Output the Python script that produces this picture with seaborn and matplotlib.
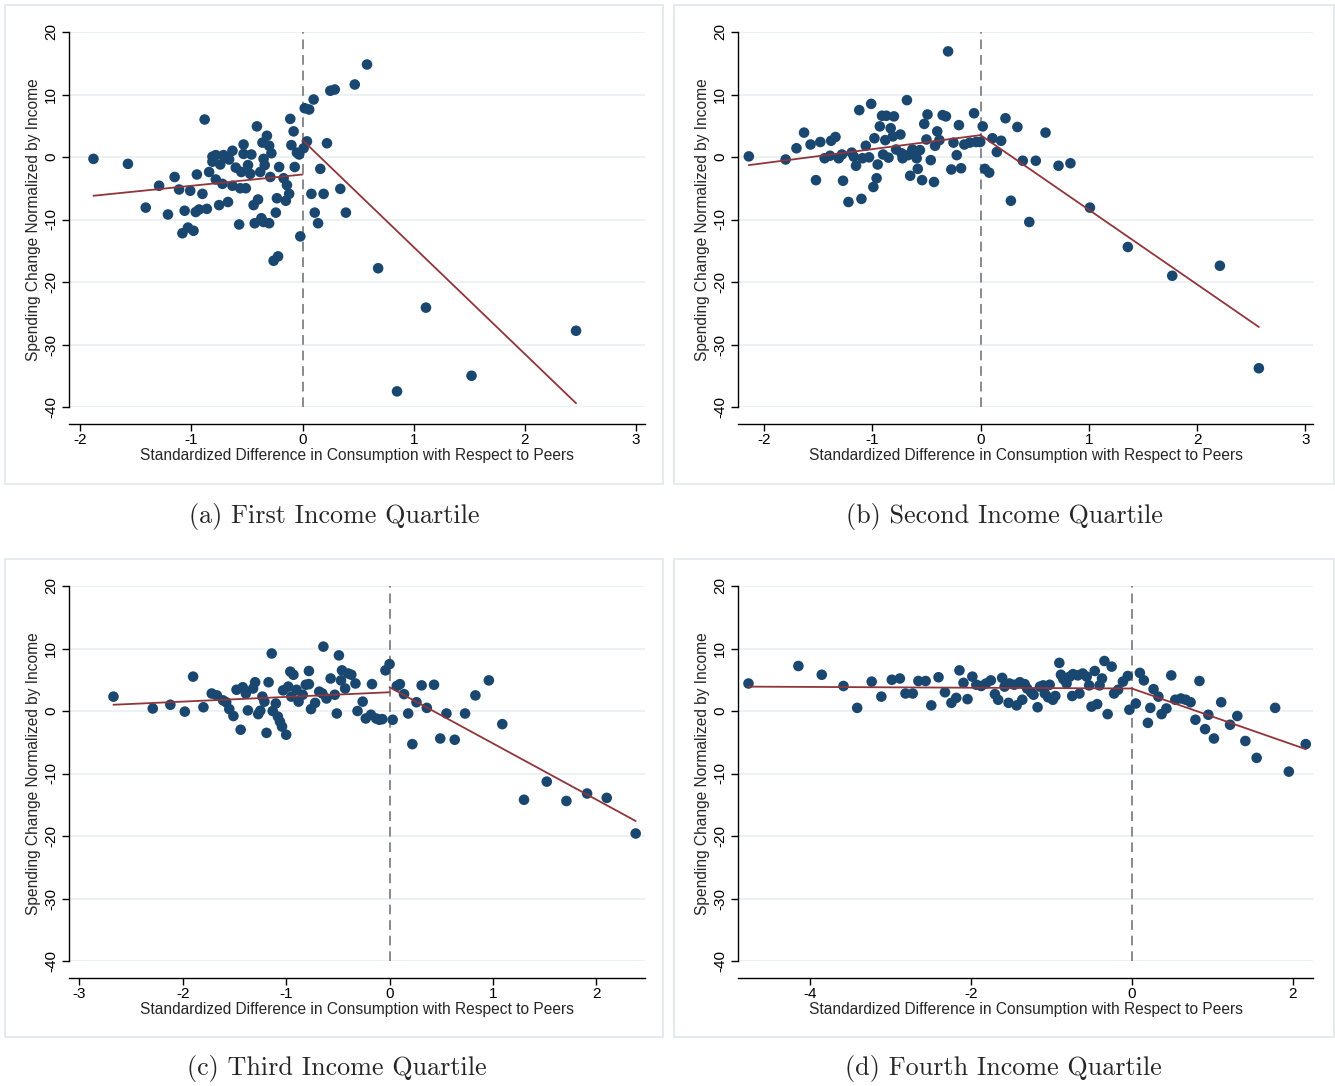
import numpy as np
import pandas as pd
import matplotlib
matplotlib.use("Agg")
import matplotlib.pyplot as plt
import seaborn as sns
from matplotlib.patches import Rectangle

# ---------------- data ----------------
a_x = [-1.88, -1.57, -0.88, -1.15, -1.29, -1.41, -1.21, -1.11, -1.01, -0.95, -0.90, -1.06, -0.96, -0.93,
       -0.86, -1.08, -1.03, -0.98, -0.84, -0.78, -0.75, -0.67, -0.81, -0.78, -0.71, -0.81, -0.74, -0.70,
       -0.66, -0.63, -0.72, -0.63, -0.56, -0.51, -0.60, -0.55, -0.49, -0.47, -0.53, -0.53, -0.46, -0.57,
       -0.44, -0.40, -0.43, -0.37, -0.35, -0.30, -0.41, -0.32, -0.36, -0.30, -0.28, -0.35, -0.34, -0.38,
       -0.29, -0.21, -0.17, -0.14, -0.12, -0.15, -0.23, -0.24, -0.26, -0.22, -0.11, -0.08, -0.10, -0.07,
       -0.05, -0.03, 0.01, -0.02, 0.02, 0.06, 0.10, 0.04, 0.08, 0.16, 0.19, 0.11, 0.14, 0.22, 0.34, 0.39,
       0.25, 0.29, 0.47, 0.58, 0.68, 1.11, 0.85, 1.52, 2.46]
a_y = [-0.3, -1.1, 6.0, -3.2, -4.6, -8.1, -9.2, -5.2, -5.4, -2.8, -5.9, -8.6, -8.8, -8.4,
       -8.3, -12.2, -11.3, -11.8, -2.4, -3.6, -7.7, -7.2, 0.05, 0.3, 0.3, -0.75, -1.2, -0.05,
       -0.4, 1.0, -4.3, -4.6, -5.0, -5.0, -1.7, -2.4, -1.3, -2.7, 2.0, 0.5, 0.4, -10.8,
       -7.7, -6.8, -10.6, -9.8, -10.4, -10.6, 4.9, 3.4, 2.3, 1.8, 0.6, -0.3, -1.3, -2.4,
       -3.2, -1.6, -3.4, -4.5, -5.9, -7.0, -6.6, -8.9, -16.6, -15.9, 6.1, 4.1, 1.9, -1.6,
       0.7, 0.4, 1.4, -12.7, 7.8, 7.6, 9.2, 2.5, -5.9, -1.9, -5.9, -8.9, -10.6, 2.2, -5.1, -8.9,
       10.6, 10.8, 11.6, 14.8, -17.8, -24.1, -37.5, -35.0, -27.8]
a_fit_left_x = [-1.88, 0.0]
a_fit_left_y = [-6.2, -2.8]
a_fit_right_x = [0.0, 2.46]
a_fit_right_y = [2.7, -39.4]

b_x = [-2.14, -1.80, -1.70, -1.63, -1.57, -1.48, -1.52, -1.44, -1.39, -1.31, -1.38, -1.34, -1.28, -1.19,
       -1.17, -1.27, -1.22, -1.15, -1.12, -1.10, -1.09, -1.03, -1.06, -1.01, -0.99, -0.96, -0.98, -0.95,
       -0.93, -0.91, -0.87, -0.80, -0.88, -0.83, -0.90, -0.85, -0.81, -0.74, -0.78, -0.73, -0.72, -0.67,
       -0.63, -0.59, -0.56, -0.63, -0.68, -0.65, -0.58, -0.54, -0.52, -0.50, -0.49, -0.46, -0.43, -0.42,
       -0.40, -0.38, -0.35, -0.32, -0.30, -0.27, -0.25, -0.22, -0.20, -0.18, -0.15, -0.10, -0.04, -0.003,
       -0.06, 0.02, 0.04, 0.08, 0.11, 0.15, 0.19, 0.23, 0.28, 0.34, 0.39, 0.45, 0.51, 0.60, 0.72, 0.83,
       1.01, 1.36, 1.77, 2.21, 2.57]
b_y = [0.1, -0.4, 1.4, 3.9, 2.0, 2.4, -3.7, -0.2, 0.2, -0.2, 2.6, 3.2, 0.4, 0.7,
       0.05, -3.8, -7.2, -1.4, 7.5, -6.7, -0.2, -0.05, 1.8, 8.5, -4.8, -3.4, 3.0, -1.2,
       4.9, 6.6, 6.6, 6.5, 2.7, 4.6, 0.4, -0.1, 3.3, 3.6, 1.2, 0.6, -0.2, 0.3,
       1.2, -0.2, 1.1, 0.5, 9.1, -3.0, -1.9, -3.7, 5.3, 2.8, 6.8, -0.5, -4.0, 1.8,
       4.1, 2.7, 6.7, 6.5, 16.9, -2.0, 2.3, 0.3, 5.1, -1.8, 2.0, 2.3, 2.4, 2.4,
       7.0, 4.9, -1.9, -2.5, 3.0, 0.8, 2.6, 6.2, -7.0, 4.8, -0.6, -10.4, -0.6, 3.9, -1.4, -1.0,
       -8.1, -14.4, -19.0, -17.4, -33.8]
b_fit_left_x = [-2.14, 0.0]
b_fit_left_y = [-1.3, 3.5]
b_fit_right_x = [0.0, 2.57]
b_fit_right_y = [3.5, -27.2]

c_x = [-2.67, -2.29, -2.12, -1.98, -1.90, -1.80, -1.72, -1.67, -1.61, -1.58, -1.55, -1.51, -1.48, -1.42,
       -1.39, -1.44, -1.37, -1.32, -1.30, -1.27, -1.25, -1.23, -1.21, -1.19, -1.17, -1.14, -1.13, -1.10,
       -1.08, -1.06, -1.04, -1.00, -1.03, -0.98, -0.96, -0.93, -0.95, -0.90, -0.88, -0.84, -0.81, -0.78,
       -0.78, -0.76, -0.72, -0.68, -0.65, -0.61, -0.53, -0.64, -0.57, -0.51, -0.49, -0.46, -0.40, -0.37,
       -0.33, -0.43, -0.47, -0.31, -0.26, -0.23, -0.18, -0.13, -0.10, -0.07, -0.17, -0.04, 0.00, 0.03,
       0.07, 0.10, 0.14, 0.18, 0.22, 0.26, 0.31, 0.43, 0.36, 0.49, 0.55, 0.63, 0.73, 0.83, 0.96, 1.09,
       1.30, 1.52, 1.71, 1.91, 2.10, 2.38]
c_y = [2.3, 0.4, 1.0, -0.1, 5.5, 0.6, 2.8, 2.5, 1.7, 1.4, 0.3, -0.8, 3.4, 3.8,
       2.8, -3.0, 0.1, 3.6, 4.6, -0.5, 0.05, 2.3, 1.5, -3.5, 4.6, 9.2, 0.0, 1.2,
       -0.9, -1.7, -2.5, -3.8, 3.3, 3.9, 6.3, 5.8, 2.3, 3.4, 1.5, 2.6, 4.2, 4.3,
       6.4, 0.3, 1.3, 3.1, 2.8, 2.0, 2.6, 10.3, 5.2, -0.4, 8.9, 6.5, 6.0, 5.8,
       4.4, 3.6, 4.9, 0.0, 1.5, -1.2, -0.6, -1.2, -1.4, -1.3, 4.3, 6.5, 7.5, -1.4,
       4.0, 4.3, 2.7, -0.4, -5.3, 1.4, 4.1, 4.2, 0.5, -4.4, -0.4, -4.6, -0.4, 2.5, 4.9, -2.1,
       -14.2, -11.3, -14.4, -13.2, -13.9, -19.6]
c_fit_left_x = [-2.67, 0.0]
c_fit_left_y = [1.0, 3.0]
c_fit_right_x = [0.0, 2.38]
c_fit_right_y = [3.8, -17.6]

d_x = [-4.76, -4.14, -3.85, -3.58, -3.41, -3.23, -3.11, -2.98, -2.88, -2.81, -2.72, -2.65, -2.56, -2.49,
       -2.40, -2.32, -2.24, -2.18, -2.14, -2.09, -2.04, -1.98, -1.93, -1.87, -1.81, -1.75, -1.70, -1.66,
       -1.61, -1.58, -1.52, -1.46, -1.39, -1.33, -1.30, -1.53, -1.43, -1.36, -1.25, -1.22, -1.17, -1.14,
       -1.10, -1.02, -1.08, -1.04, -0.98, -0.95, -0.90, -0.88, -0.85, -0.81, -0.77, -0.73, -0.67, -0.61,
       -0.56, -0.74, -0.65, -0.53, -0.50, -0.43, -0.46, -0.40, -0.37, -0.34, -0.25, -0.30, -0.22, -0.17,
       -0.11, -0.05, -0.03, 0.05, 0.10, 0.15, 0.20, 0.23, 0.27, 0.33, 0.37, 0.43, 0.49, 0.54, 0.61, 0.67,
       0.73, 0.79, 0.84, 0.91, 0.95, 1.02, 1.11, 1.22, 1.31, 1.41, 1.55, 1.78, 1.95, 2.16]
d_y = [4.4, 7.2, 5.8, 4.0, 0.5, 4.7, 2.3, 5.0, 5.2, 2.8, 2.8, 4.8, 4.8, 0.9,
       5.4, 3.0, 1.3, 2.1, 6.5, 4.5, 1.9, 5.5, 4.2, 4.0, 4.4, 4.9, 2.7, 1.8,
       5.3, 3.9, 4.4, 4.2, 4.6, 4.3, 3.6, 1.3, 0.9, 1.8, 3.0, 2.6, 0.6, 3.9,
       4.1, 4.2, 2.8, 2.2, 1.8, 2.4, 7.7, 5.8, 5.1, 4.4, 5.5, 5.9, 5.7, 6.0,
       5.5, 2.4, 2.8, 4.1, 0.7, 1.1, 6.4, 4.1, 5.2, 8.0, 7.1, -0.5, 2.8, 3.4,
       4.7, 5.6, 0.2, 1.2, 6.1, 4.9, -1.9, 0.5, 3.5, 2.3, -0.5, 0.4, 5.7, 1.8, 2.0, 1.8,
       1.4, -1.4, 4.8, -2.9, -0.6, -4.4, 1.4, -2.2, -0.8, -4.8, -7.5, 0.5, -9.7, -5.3]
d_fit_left_x = [-4.76, 0.0]
d_fit_left_y = [3.9, 3.6]
d_fit_right_x = [0.0, 2.16]
d_fit_right_y = [3.6, -6.1]

captions = ["(a) First Income Quartile", "(b) Second Income Quartile",
            "(c) Third Income Quartile", "(d) Fourth Income Quartile"]
x_ticks_a = [-2, -1, 0, 1, 2, 3]
x_ticks_b = [-2, -1, 0, 1, 2, 3]
x_ticks_c = [-3, -2, -1, 0, 1, 2]
x_ticks_d = [-4, -2, 0, 2]
y_ticks = [-40, -30, -20, -10, 0, 10, 20]
x_label = "Standardized Difference in Consumption with Respect to Peers"
y_label = "Spending Change Normalized by Income"

# ---------------- styling ----------------
sns.set_theme(style="ticks")
plt.rcParams["font.family"] = ["Liberation Sans", "DejaVu Sans"]
plt.rcParams["axes.unicode_minus"] = False

DOT = "#1a476f"
FIT = "#90353b"
GRID = "#e9f0f2"
FRAME = "#e3e9ec"

W, H = 1335, 1086
fig = plt.figure(figsize=(W / 100, H / 100), dpi=100)

def fx(px):
    return px / W

def fy(py):
    return 1 - py / H

panels = [
    dict(x=a_x, y=a_y, flx=a_fit_left_x, fly=a_fit_left_y, frx=a_fit_right_x, fry=a_fit_right_y,
         xt=x_ticks_a, xlim=(-2.1, 3.08), ax_px=(69, 32, 645, 407), frame=(5, 5, 663, 484),
         cap=captions[0], cap_xy=(334, 516)),
    dict(x=b_x, y=b_y, flx=b_fit_left_x, fly=b_fit_left_y, frx=b_fit_right_x, fry=b_fit_right_y,
         xt=x_ticks_b, xlim=(-2.24, 3.07), ax_px=(738, 32, 1313, 407), frame=(674, 5, 1334, 484),
         cap=captions[1], cap_xy=(1004, 516)),
    dict(x=c_x, y=c_y, flx=c_fit_left_x, fly=c_fit_left_y, frx=c_fit_right_x, fry=c_fit_right_y,
         xt=x_ticks_c, xlim=(-3.1, 2.47), ax_px=(69, 586, 645, 961), frame=(5, 559, 663, 1037),
         cap=captions[2], cap_xy=(337, 1069)),
    dict(x=d_x, y=d_y, flx=d_fit_left_x, fly=d_fit_left_y, frx=d_fit_right_x, fry=d_fit_right_y,
         xt=x_ticks_d, xlim=(-4.89, 2.25), ax_px=(738, 586, 1313, 961), frame=(674, 559, 1334, 1037),
         cap=captions[3], cap_xy=(1003, 1069)),
]

for p in panels:
    x0, y0, x1, y1 = p["frame"]
    fig.add_artist(Rectangle((fx(x0), fy(y1)), fx(x1 - x0), (y1 - y0) / H,
                             transform=fig.transFigure, fill=False, ec=FRAME, lw=1.3, zorder=0))
    l, t, r, b = p["ax_px"]
    ax = fig.add_axes([fx(l), fy(b), fx(r - l), (b - t) / H])
    ax.set_facecolor("white")
    for yv in y_ticks:
        ax.axhline(yv, color=GRID, lw=1.2, zorder=0)
    ax.axvline(0, color="#8a8a8a", lw=1.4, ls=(0, (5, 3)), zorder=1)
    df = pd.DataFrame({"x": p["x"], "y": p["y"]})
    sns.scatterplot(data=df, x="x", y="y", ax=ax, color=DOT, s=58, edgecolor="none",
                    linewidth=0, zorder=3)
    left = pd.DataFrame({"x": p["flx"], "y": p["fly"]})
    right = pd.DataFrame({"x": p["frx"], "y": p["fry"]})
    sns.lineplot(data=left, x="x", y="y", ax=ax, color=FIT, lw=1.3, sort=False, zorder=4)
    sns.lineplot(data=right, x="x", y="y", ax=ax, color=FIT, lw=1.3, sort=False, zorder=4)
    ax.set_xlim(*p["xlim"])
    ax.set_ylim(-40, 20)
    ax.set_xticks(p["xt"])
    ax.set_xticklabels([str(v) for v in p["xt"]])
    ax.set_yticks(y_ticks)
    ax.set_yticklabels([str(v) for v in y_ticks], rotation=90, va="center")
    ax.tick_params(axis="both", direction="out", length=5, width=1, color="black",
                   labelsize=11, labelcolor="black")
    ax.tick_params(axis="x", pad=1.5)
    ax.tick_params(axis="y", pad=3)
    ax.spines["top"].set_visible(False)
    ax.spines["right"].set_visible(False)
    ax.spines["left"].set_color("black")
    ax.spines["bottom"].set_color("black")
    ax.spines["left"].set_linewidth(1)
    ax.spines["bottom"].set_linewidth(1)
    ax.spines["bottom"].set_position(("outward", 12))
    ax.set_xlabel(x_label, fontsize=11.2, labelpad=1)
    ax.set_ylabel(y_label, fontsize=11.2, labelpad=2)
    cx, cy = p["cap_xy"]
    fig.text(fx(cx), fy(cy), p["cap"], ha="center", va="center",
             family=["cmr10", "DejaVu Serif"], fontsize=18.8)

fig.savefig("out.png", dpi=100, facecolor="white")
